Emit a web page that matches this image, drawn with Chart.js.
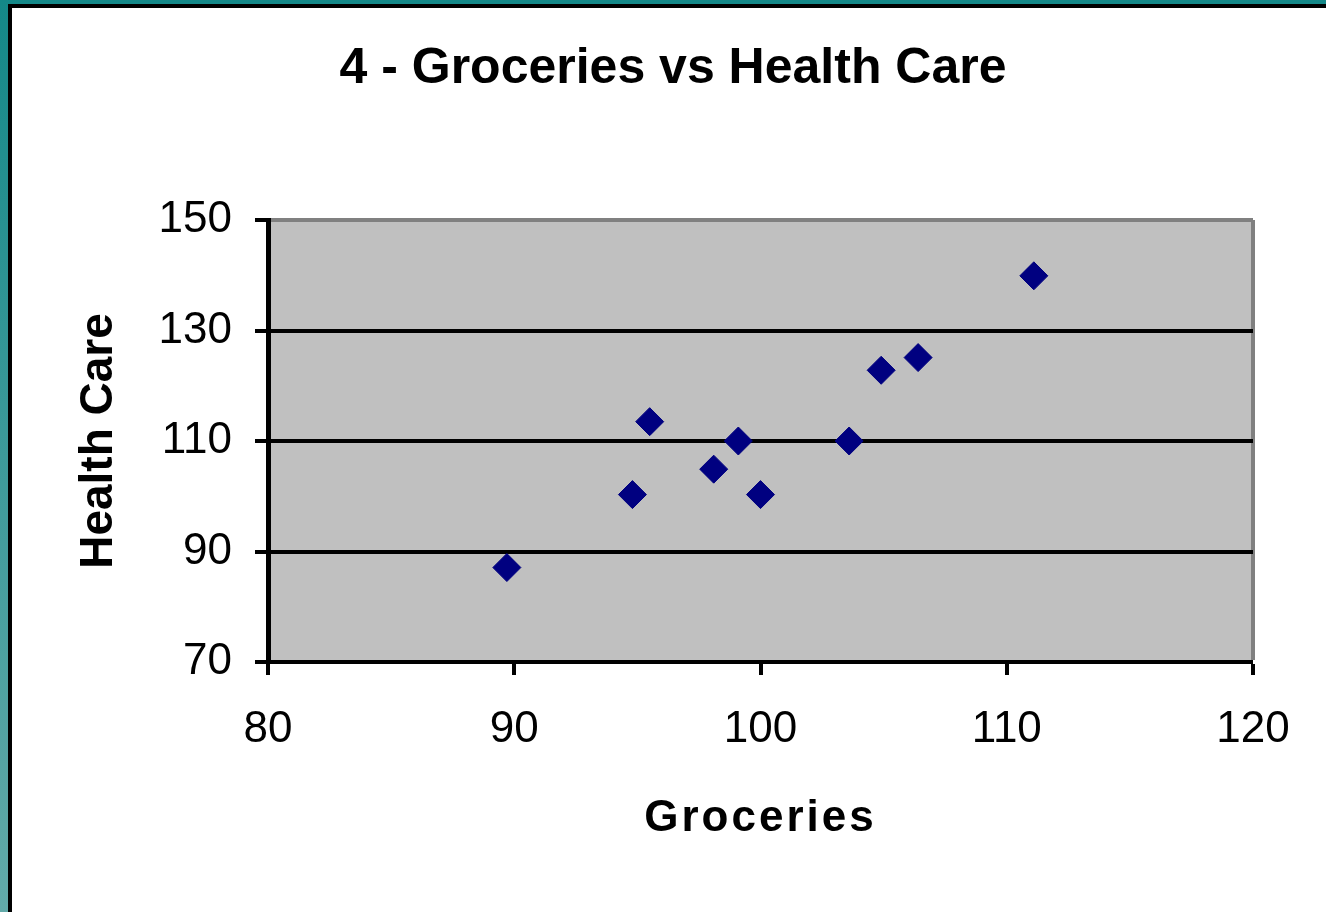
<!DOCTYPE html>
<html>
<head>
<meta charset="utf-8">
<title>4 - Groceries vs Health Care</title>
<script src="https://cdn.jsdelivr.net/npm/chart.js@4/dist/chart.umd.min.js"></script>
<style>
  html, body { margin: 0; padding: 0; width: 1326px; height: 912px; overflow: hidden; }
  body { background: linear-gradient(to bottom, #148888 0%, #3d9a9a 50%, #62aaa9 100%); position: relative; }
  #panel {
    position: absolute; left: 8px; top: 4px; right: -20px; bottom: -20px;
    background: #ffffff; border-top: 4px solid #000; border-left: 4px solid #000;
  }
  #chart { position: absolute; left: 0; top: 0; }
</style>
</head>
<body>
<div id="panel"></div>
<canvas id="chart" width="1326" height="912"></canvas>
<script>
// Grocery index vs health care index, one point per city
const groceries  = [89.7, 94.8, 95.5, 98.1, 99.1, 100.0, 103.6, 104.9, 106.4, 111.1];
const healthCare = [87.1, 100.3, 113.5, 104.9, 110.0, 100.3, 110.0, 122.8, 125.1, 139.9];

// Axis tick values
const xTicks = [80, 90, 100, 110, 120];
const yTicks = [70, 90, 110, 130, 150];

const chartTitle = '4 - Groceries vs Health Care';
const xTitle = 'Groceries';
const yTitle = 'Health Care';

const FONT = "'Liberation Sans', Arial, Helvetica, sans-serif";

const points = groceries.map((g, i) => ({ x: g, y: healthCare[i] }));

// Grey plot area behind the grid
const plotBackground = {
  id: 'plotBackground',
  beforeDraw(chart) {
    const { ctx, chartArea: a } = chart;
    ctx.save();
    ctx.fillStyle = '#c0c0c0';
    ctx.fillRect(a.left, a.top, a.right - a.left, a.bottom - a.top);
    ctx.restore();
  }
};

// Slightly wider letter spacing for the horizontal axis title
const spacedAxisTitle = {
  id: 'spacedAxisTitle',
  beforeDraw(chart) {
    const s = chart.scales.x;
    if (s && !s.__spaced) {
      const orig = s.drawTitle;
      s.drawTitle = function () {
        const c = this.ctx;
        c.save();
        c.letterSpacing = '3px';
        orig.call(this);
        c.restore();
      };
      s.__spaced = true;
    }
  }
};

Chart.defaults.color = '#000';

new Chart(document.getElementById('chart'), {
  type: 'scatter',
  data: {
    datasets: [{
      label: yTitle,
      data: points,
      pointStyle: 'rectRot',
      pointRadius: 14,
      pointHoverRadius: 14,
      backgroundColor: '#000080',
      borderColor: '#000080',
      borderWidth: 1
    }]
  },
  options: {
    responsive: false,
    animation: false,
    events: [],
    layout: { padding: { left: 93, right: 73, top: 0, bottom: 0 } },
    plugins: {
      legend: { display: false },
      tooltip: { enabled: false },
      title: {
        display: true,
        text: chartTitle,
        color: '#000',
        font: { family: FONT, size: 50, weight: 'bold', lineHeight: 1.2 },
        padding: { top: 39, bottom: 121 }
      }
    },
    scales: {
      x: {
        type: 'linear',
        min: 80, max: 120,
        afterBuildTicks: (scale) => { scale.ticks = xTicks.map(v => ({ value: v })); },
        afterFit: (scale) => { scale.height = 250; },
        ticks: {
          font: { family: FONT, size: 44, lineHeight: 1.2 },
          color: '#000',
          padding: 28,
          maxRotation: 0,
          autoSkip: false
        },
        grid: {
          drawTicks: true,
          tickLength: 13,
          tickColor: '#000',
          tickWidth: 4,
          color: (ctx) => (ctx.tick && ctx.tick.value === 120) ? '#808080' : 'rgba(0,0,0,0)',
          lineWidth: (ctx) => (ctx.tick && ctx.tick.value === 120) ? 4 : 0
        },
        border: { display: true, color: '#000', width: 4 },
        title: {
          display: true,
          text: xTitle,
          color: '#000',
          font: { family: FONT, size: 44, weight: 'bold', lineHeight: 1.2 },
          padding: { top: 0, bottom: 67 }
        }
      },
      y: {
        type: 'linear',
        min: 70, max: 150,
        afterBuildTicks: (scale) => { scale.ticks = yTicks.map(v => ({ value: v })); },
        afterFit: (scale) => { scale.width = 175; },
        ticks: {
          font: { family: FONT, size: 44, lineHeight: 1.2 },
          color: '#000',
          padding: 23,
          autoSkip: false
        },
        grid: {
          drawTicks: true,
          tickLength: 13,
          tickColor: '#000',
          tickWidth: 4,
          color: (ctx) => (ctx.tick && ctx.tick.value === 150) ? '#808080' : '#000',
          lineWidth: 4
        },
        border: { display: true, color: '#000', width: 5 },
        title: {
          display: true,
          text: yTitle,
          color: '#000',
          font: { family: FONT, size: 46, weight: 'bold', lineHeight: 1 },
          padding: { top: -17, bottom: 0 }
        }
      }
    }
  },
  plugins: [plotBackground, spacedAxisTitle]
});
</script>
</body>
</html>
